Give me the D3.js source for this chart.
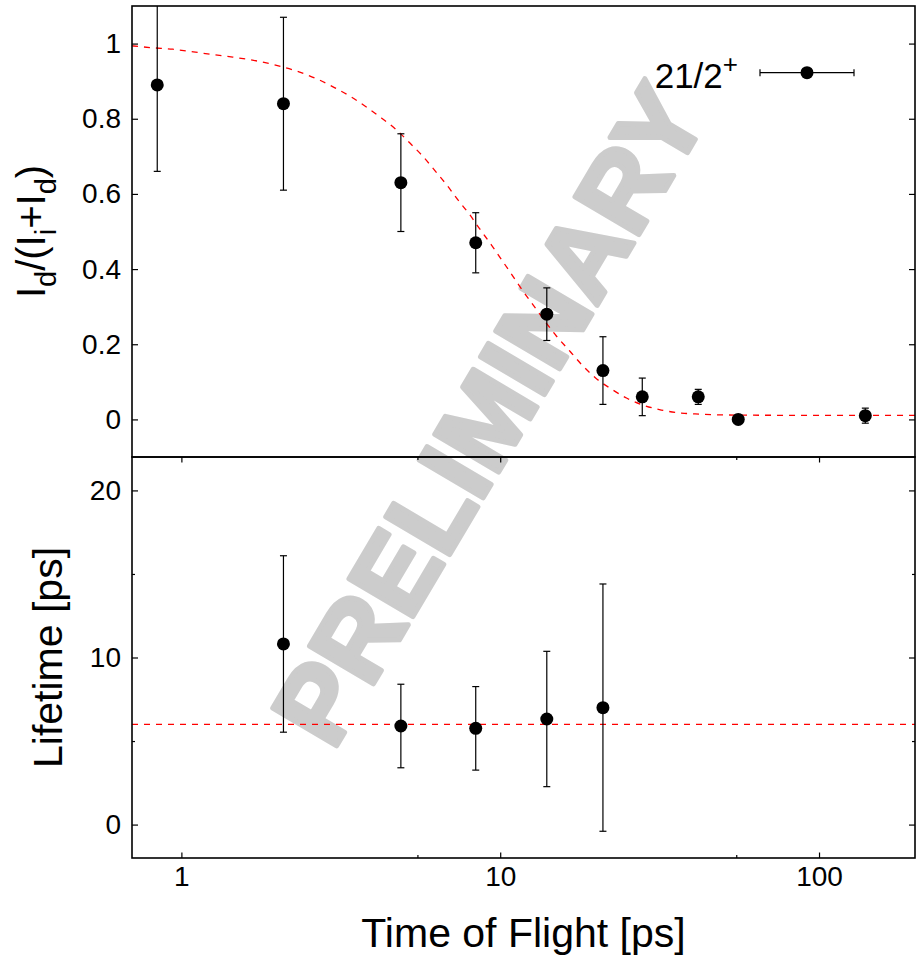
<!DOCTYPE html>
<html>
<head>
<meta charset="utf-8">
<script src="https://cdn.jsdelivr.net/npm/d3@7"></script>
<style>
    body { margin: 0; background: #fff; }
    svg { display: block; font-family: "Liberation Sans", Arial, Helvetica, sans-serif; }
    .axis text { font-size: 28px; fill: #000; }
    .axis line { stroke: #000; stroke-width: 1.2; }
    .axis path { display: none; }
</style>
</head>
<body>
<div id="chart"></div>
<script>
// time of flight [ps] for the decay-curve points
var tof = [0.84, 2.09, 4.88, 8.38, 14.0, 21.0, 27.9, 41.8, 55.8, 139.7];
var ratio = [0.89, 0.84, 0.63, 0.47, 0.28, 0.13, 0.06, 0.06, 0.00, 0.01];
var ratioErr = [0.23, 0.23, 0.13, 0.08, 0.07, 0.09, 0.05, 0.02, 0.005, 0.02];

// lifetimes extracted at the individual distances
var lifeTof = [2.09, 4.88, 8.38, 14.0, 21.0];
var lifetime = [10.81, 5.90, 5.76, 6.32, 7.00];
var lifeErr = [5.28, 2.50, 2.50, 4.05, 7.40];

// red dashed fit
var fitTof = [0.70, 0.81, 0.94, 1.09, 1.25, 1.45, 1.67, 2.03, 2.35, 2.68, 3.02, 3.41, 3.82, 4.24, 4.72,
    5.2, 5.72, 6.24, 6.78, 7.37, 8.02, 8.64, 9.39, 10.1, 10.9, 11.6, 12.9, 15.0, 16.6, 18.0, 20.0,
    22.4, 24.9, 28.1, 32.0, 37.0, 42.2, 48.9, 75.5, 200];
var fitRatio = [0.994, 0.989, 0.985, 0.978, 0.971, 0.964, 0.956, 0.94, 0.924, 0.905, 0.883, 0.858, 0.830, 0.802, 0.771,
    0.736, 0.700, 0.662, 0.625, 0.584, 0.545, 0.506, 0.464, 0.425, 0.384, 0.350, 0.296, 0.222, 0.180, 0.146, 0.109,
    0.080, 0.057, 0.038, 0.025, 0.017, 0.014, 0.012, 0.011, 0.011];
var fitLifetime = 6.0;

var xTicks = [1, 10, 100];
var xMinorTicks = [5.5, 55];
var ratioTicks = [0, 0.2, 0.4, 0.6, 0.8, 1];
var lifeTicks = [0, 10, 20];
var lifeMinorTicks = [5, 15];
var legendLabel = "21/2";
var legendSup = "+";

var W = 917, H = 957;
var left = 132, right = 915, top1 = 6, mid = 457, bottom = 858;

var svg = d3.select("#chart").append("svg")
    .attr("width", W)
    .attr("height", H);

var x = d3.scaleLog().domain([0.7, 200]).range([left, right]);
var yTop = d3.scaleLinear().domain([-0.1, 1.1]).range([mid, top1]);
var yBot = d3.scaleLinear().domain([-2, 22]).range([bottom, mid]);

var defs = svg.append("defs");
defs.append("clipPath").attr("id", "clipTop")
    .append("rect").attr("x", left).attr("y", top1).attr("width", right - left).attr("height", mid - top1);
defs.append("clipPath").attr("id", "clipBot")
    .append("rect").attr("x", left).attr("y", mid).attr("width", right - left).attr("height", bottom - mid);

// watermark sits under everything
svg.append("text")
    .attr("transform", "translate(333,752) rotate(-59.4)")
    .style("font-family", "'Liberation Sans', Arial, sans-serif")
    .style("font-weight", "bold")
    .style("font-size", "108px")
    .style("fill", "#cccccc")
    .style("stroke", "#cccccc")
    .style("stroke-width", 5)
    .style("stroke-linejoin", "round")
    .text("PRELIMINARY");

// ---- axes ----
function fmt(d) { return d3.format("~g")(d); }

svg.append("g").attr("class", "axis")
    .attr("transform", "translate(" + left + ",0)")
    .call(d3.axisLeft(yTop).tickValues(ratioTicks).tickFormat(fmt).tickSize(-6).tickPadding(11));
svg.append("g").attr("class", "axis")
    .attr("transform", "translate(" + right + ",0)")
    .call(d3.axisRight(yTop).tickValues(ratioTicks).tickFormat("").tickSize(-6));

svg.append("g").attr("class", "axis")
    .attr("transform", "translate(" + left + ",0)")
    .call(d3.axisLeft(yBot).tickValues(lifeTicks).tickFormat(fmt).tickSize(-6).tickPadding(11));
svg.append("g").attr("class", "axis")
    .attr("transform", "translate(" + left + ",0)")
    .call(d3.axisLeft(yBot).tickValues(lifeMinorTicks).tickFormat("").tickSize(-3));
svg.append("g").attr("class", "axis")
    .attr("transform", "translate(" + right + ",0)")
    .call(d3.axisRight(yBot).tickValues(lifeTicks).tickFormat("").tickSize(-6));
svg.append("g").attr("class", "axis")
    .attr("transform", "translate(" + right + ",0)")
    .call(d3.axisRight(yBot).tickValues(lifeMinorTicks).tickFormat("").tickSize(-3));

svg.append("g").attr("class", "axis")
    .attr("transform", "translate(0," + bottom + ")")
    .call(d3.axisBottom(x).tickValues(xTicks).tickFormat(fmt).tickSize(-5.5).tickPadding(8));
svg.append("g").attr("class", "axis")
    .attr("transform", "translate(0," + bottom + ")")
    .call(d3.axisBottom(x).tickValues(xMinorTicks).tickFormat("").tickSize(-3));
svg.append("g").attr("class", "axis")
    .attr("transform", "translate(0," + mid + ")")
    .call(d3.axisTop(x).tickValues(xTicks).tickFormat("").tickSize(-5.5));
svg.append("g").attr("class", "axis")
    .attr("transform", "translate(0," + mid + ")")
    .call(d3.axisTop(x).tickValues(xMinorTicks).tickFormat("").tickSize(-3));

// ---- top panel ----
var gTop = svg.append("g").attr("clip-path", "url(#clipTop)");

var fitLine = d3.line()
    .x(function (d, i) { return x(fitTof[i]); })
    .y(function (d) { return yTop(d); })
    .curve(d3.curveMonotoneX);

gTop.append("path")
    .datum(fitRatio)
    .attr("d", fitLine)
    .attr("fill", "none")
    .attr("stroke", "#ff0000")
    .attr("stroke-width", 1.3)
    .attr("stroke-dasharray", "6,6");

function errorBars(g, xs, ys, es, yScale) {
    var pts = xs.map(function (t, i) { return { t: t, v: ys[i], e: es[i] }; });
    var bars = g.selectAll(null).data(pts).enter().append("g");
    bars.append("line")
        .attr("x1", d => x(d.t)).attr("x2", d => x(d.t))
        .attr("y1", d => yScale(d.v + d.e)).attr("y2", d => yScale(d.v - d.e));
    bars.append("line")
        .attr("x1", d => x(d.t) - 3.5).attr("x2", d => x(d.t) + 3.5)
        .attr("y1", d => yScale(d.v + d.e)).attr("y2", d => yScale(d.v + d.e));
    bars.append("line")
        .attr("x1", d => x(d.t) - 3.5).attr("x2", d => x(d.t) + 3.5)
        .attr("y1", d => yScale(d.v - d.e)).attr("y2", d => yScale(d.v - d.e));
    bars.selectAll("line").attr("stroke", "#000").attr("stroke-width", 1.2);
    bars.append("circle")
        .attr("cx", d => x(d.t))
        .attr("cy", d => yScale(d.v))
        .attr("r", 6.5)
        .attr("fill", "#000");
}

errorBars(gTop, tof, ratio, ratioErr, yTop);

// ---- bottom panel ----
var gBot = svg.append("g").attr("clip-path", "url(#clipBot)");

gBot.append("line")
    .attr("x1", left).attr("x2", right)
    .attr("y1", yBot(fitLifetime)).attr("y2", yBot(fitLifetime))
    .attr("stroke", "#ff0000")
    .attr("stroke-width", 1.3)
    .attr("stroke-dasharray", "6,6");

errorBars(gBot, lifeTof, lifetime, lifeErr, yBot);

// ---- frames ----
svg.append("rect")
    .attr("x", left).attr("y", top1).attr("width", right - left).attr("height", mid - top1)
    .attr("fill", "none").attr("stroke", "#000").attr("stroke-width", 1.6);
svg.append("rect")
    .attr("x", left).attr("y", mid).attr("width", right - left).attr("height", bottom - mid)
    .attr("fill", "none").attr("stroke", "#000").attr("stroke-width", 1.6);

// ---- legend ----
var lg = svg.append("g");
var ly = 72.7;
lg.append("line").attr("x1", 760).attr("x2", 854).attr("y1", ly).attr("y2", ly);
lg.append("line").attr("x1", 760).attr("x2", 760).attr("y1", ly - 3.5).attr("y2", ly + 3.5);
lg.append("line").attr("x1", 854).attr("x2", 854).attr("y1", ly - 3.5).attr("y2", ly + 3.5);
lg.selectAll("line").attr("stroke", "#000").attr("stroke-width", 1.2);
lg.append("circle").attr("cx", 807).attr("cy", ly).attr("r", 6.5).attr("fill", "#000");
var lt = lg.append("text")
    .attr("x", 738).attr("y", 88)
    .attr("text-anchor", "end")
    .style("font-size", "35px");
lt.append("tspan").text(legendLabel);
lt.append("tspan").attr("dy", -15.5).style("font-size", "26px").text(legendSup);

// ---- axis titles ----
svg.append("text")
    .attr("x", (left + right) / 2).attr("y", 947)
    .attr("text-anchor", "middle")
    .style("font-size", "41px")
    .text("Time of Flight [ps]");

svg.append("text")
    .attr("transform", "translate(61.5," + ((mid + bottom) / 2) + ") rotate(-90)")
    .attr("text-anchor", "middle")
    .style("font-size", "41px")
    .text("Lifetime [ps]");

var yt = svg.append("text")
    .attr("transform", "translate(45," + ((top1 + mid) / 2) + ") rotate(-90)")
    .attr("text-anchor", "middle")
    .style("font-size", "40px");
var parts = [["I", 0], ["d", 1], ["/(I", 0], ["i", 1], ["+I", 0], ["d", 1], [")", 0]];
var prev = 0;
parts.forEach(function (p) {
    var shift = p[1] ? 11 : 0;
    yt.append("tspan")
        .attr("dy", shift - prev)
        .style("font-size", p[1] ? "29px" : null)
        .text(p[0]);
    prev = shift;
});
</script>
</body>
</html>
